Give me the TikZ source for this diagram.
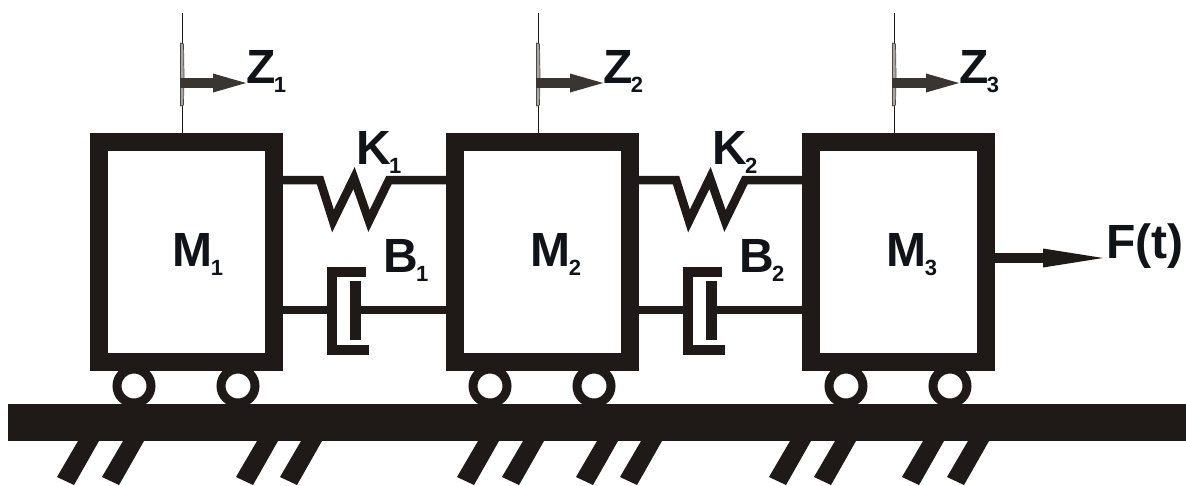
\documentclass[tikz,border=0pt]{standalone}
\usepackage{fontspec}
\setmainfont{Liberation Sans}
\usetikzlibrary{arrows.meta}
\definecolor{ink}{HTML}{1F1A17}
\definecolor{arrowink}{HTML}{3A3530}
\definecolor{txt}{HTML}{101418}
\newcommand{\biglabel}[2]{{\fontsize{48}{48}\selectfont\bfseries #1}\kern-1.5pt\raisebox{-9pt}{\fontsize{22}{22}\selectfont\bfseries #2}}
\tikzset{
  massbox/.style={draw=ink,line width=18pt,fill=white,minimum width=175pt,minimum height=220pt,inner sep=0pt,outer sep=9pt},
  wheelnode/.style={circle,draw=ink,line width=9pt,fill=white,minimum size=34pt,inner sep=0pt},
  groundbar/.style={fill=ink,minimum width=1178pt,minimum height=37pt,inner sep=0pt,anchor=north west},
  lbl/.style={text=txt,inner sep=0pt,outer sep=0pt,anchor=base west},
  wire/.style={draw=ink,line width=8.5pt,miter limit=20},
  damperpart/.style={draw=ink,line width=10pt,miter limit=10},
  post/.style={draw=ink,line width=1.3pt},
  lens/.style={draw=ink!80,line width=.7pt,fill=black!35},
  motion/.style={draw=arrowink,line width=10pt,-{Triangle[length=33pt,width=19pt,fill=arrowink,line width=0pt]}},
  force/.style={draw=ink,line width=10pt,-{Triangle[length=60pt,width=19pt,fill=ink,line width=0pt]}},
}
\begin{document}
\begin{tikzpicture}[x=1pt,y=-1pt]
\useasboundingbox[fill=white] (0,0) rectangle (1186,485);
% hatching
\foreach \t in {78,123,257,301,478,523,597,641,790,835,923,968}
  \fill[ink] (\t,438) -- (\t+21,438) -- (\t+21,441) -- (\t-4,485) -- (\t-21,477) -- (\t,441) -- cycle;
% wheels
\foreach \x/\n in {134/a,238/b,490/c,594/d,846/e,950/f}
  \node[wheelnode] (w\n) at (\x,386) {};
% ground
\node[groundbar] (ground) at (8,404) {};
% masses
\node[massbox] (m1) at (186.5,252) {};
\node[massbox] (m2) at (542.5,252) {};
\node[massbox] (m3) at (898.5,252) {};
% labels
\node[lbl] (lm1) at (172.5,266) {\biglabel{M}{1}};
\node[lbl] (lm2) at (530.5,266) {\biglabel{M}{2}};
\node[lbl] (lm3) at (886.5,266) {\biglabel{M}{3}};
\node[lbl] (lk1) at (356,164) {\biglabel{K}{1}};
\node[lbl] (lk2) at (712,164) {\biglabel{K}{2}};
\node[lbl] (lb1) at (383,272) {\biglabel{B}{1}};
\node[lbl] (lb2) at (739,272) {\biglabel{B}{2}};
\node[lbl] (z1) at (246,83) {\biglabel{Z}{1}};
\node[lbl] (z2) at (603,83) {\biglabel{Z}{2}};
\node[lbl] (z3) at (959,83) {\biglabel{Z}{3}};
\node[lbl] (ft) at (1106,258) {\fontsize{48}{48}\selectfont\bfseries F(t)};
% springs
\draw[wire] ([yshift=72pt]m1.east) -- (320,180) -- (333,221) -- (354,178) -- (369,221) -- (389,180) -- ([yshift=72pt]m2.west);
\draw[wire] ([yshift=72pt]m2.east) -- (676,180) -- (689,221) -- (710,178) -- (725,221) -- (745,180) -- ([yshift=72pt]m3.west);
% dampers
\foreach \a/\b/\dx in {m1/m2/0,m2/m3/356}{
  \coordinate (pl) at (355.5+\dx,310);
  \draw[wire] ([yshift=-58pt]\a.east) -- (332+\dx,310);
  \draw[wire] (pl) -- ([yshift=-58pt]\b.west);
  \draw[damperpart] (366+\dx,271.5) -- (332+\dx,271.5) -- (332+\dx,349.5) -- (369+\dx,349.5);
  \draw[ink,line width=11pt] (355.5+\dx,281) -- (355.5+\dx,340);
}
% displacement posts and arrows
\foreach \i/\dx in {1/0,2/356,3/712}{
  \coordinate (top\i) at (182.5+\dx,13);
  \draw[post] (top\i) -- (top\i |- m\i.north);
  \draw[lens] (180.5+\dx,43) -- (183.5+\dx,44) -- (184+\dx,75) -- (183.5+\dx,105) -- (180.5+\dx,106) -- cycle;
  \coordinate (st\i) at (180+\dx,83);
  \draw[motion] (st\i) -- (st\i -| z\i.west);
}
% force arrow
\draw[force] ([yshift=-6pt]m3.east) -- ([xshift=-3pt]ft.base west);
\end{tikzpicture}
\end{document}
